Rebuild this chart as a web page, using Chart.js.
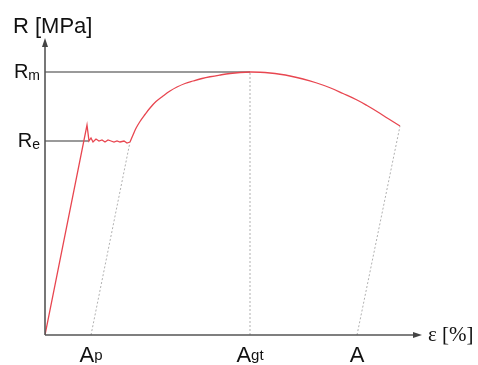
<!DOCTYPE html>
<html><head><meta charset="utf-8">
<script src="https://cdn.jsdelivr.net/npm/chart.js@4/dist/chart.umd.min.js"></script>
<style>html,body{margin:0;padding:0;background:#fff}canvas{display:block}</style>
</head><body>
<canvas id="c" width="478" height="365"></canvas>
<script>
// strain ε [%] and stress R [MPa]
const curveStrain = [0, 4.2, 4.4, 4.6, 4.8, 5.1, 5.4, 5.7, 6.0, 6.3, 6.6, 6.9, 7.2, 7.5, 7.9, 8.2, 8.5, 8.8, 9.1, 9.5, 10.0, 10.5, 11.1, 11.8, 12.5, 13.2, 14.0, 14.8, 15.7, 16.5, 17.5, 18.5, 19.5, 20.5, 21.5, 22.5, 23.5, 24.5, 25.8, 27.1, 28.5, 29.8, 31.2, 32.2, 33.2, 34.3, 35.5];
const curveStress = [0, 420, 388, 394, 386, 392, 388, 390, 386, 390, 388, 386, 388, 386, 388, 384, 386, 400, 413.5, 427, 441, 454, 467, 478, 488, 496, 503, 508, 513, 516.5, 520, 523, 525, 526, 525.5, 524, 521.5, 518, 512, 504.5, 494.5, 483, 470, 459, 447, 433, 418];
const hardeningStart = 16; // index where strain hardening begins (end of yield plateau)
const xTickLabels = [["A", "p"], ["A", "gt"], ["A", ""]];
const xTickValues = [4.6, 20.5, 31.2];
const yTickLabels = [["R", "m"], ["R", "e"]];
const yTickValues = [526, 388];
const yieldEndStrain = 4.4;
const plasticEnd = [8.5, 386];
const fractureEnd = [35.5, 418];
const xMax = 37.7, yMax = 594;

const pts = (xs, ys) => xs.map((x, i) => ({x, y: ys[i]}));
const curve = pts(curveStrain, curveStress);

const red = {borderColor: 'rgb(232,70,80)', borderWidth: 1.3};
const grey = {borderColor: '#9a9a9a', borderWidth: 1.8};
const dashed = {borderColor: '#b0b0b0', borderWidth: 1, borderDash: [2, 2]};

const datasets = [
  Object.assign({data: curve.slice(0, hardeningStart + 1), tension: 0}, red),
  Object.assign({data: curve.slice(hardeningStart), tension: 0.4}, red),
  Object.assign({data: [{x: 0, y: yTickValues[0]}, {x: xTickValues[1], y: yTickValues[0]}]}, grey),
  Object.assign({data: [{x: 0, y: yTickValues[1]}, {x: yieldEndStrain, y: yTickValues[1]}]}, grey),
  Object.assign({data: [{x: xTickValues[0], y: 0}, {x: plasticEnd[0], y: plasticEnd[1]}]}, dashed),
  Object.assign({data: [{x: xTickValues[1], y: 0}, {x: xTickValues[1], y: yTickValues[0]}]}, dashed),
  Object.assign({data: [{x: xTickValues[2], y: 0}, {x: fractureEnd[0], y: fractureEnd[1]}]}, dashed)
].map(d => Object.assign({showLine: true, pointRadius: 0, fill: false}, d));

const FONT = '"Liberation Sans", Arial, sans-serif';
function subLabel(ctx, parts, x, y, align, big, small, dy) {
  ctx.font = big + 'px ' + FONT;
  const w1 = ctx.measureText(parts[0]).width;
  ctx.font = small + 'px ' + FONT;
  const w2 = ctx.measureText(parts[1]).width;
  let left = align === 'right' ? x - w1 - w2 : x - (w1 + w2) / 2;
  ctx.textAlign = 'left';
  ctx.textBaseline = 'alphabetic';
  ctx.font = big + 'px ' + FONT;
  ctx.fillText(parts[0], left, y);
  ctx.font = small + 'px ' + FONT;
  ctx.fillText(parts[1], left + w1, y + dy);
}

const axesPlugin = {
  id: 'axes',
  afterDatasetsDraw(chart) {
    const ctx = chart.ctx, xs = chart.scales.x, ys = chart.scales.y;
    const x0 = xs.getPixelForValue(0), y0 = ys.getPixelForValue(0);
    const xEnd = xs.getPixelForValue(xMax), yEnd = ys.getPixelForValue(yMax);
    ctx.save();
    ctx.strokeStyle = '#555'; ctx.fillStyle = '#444'; ctx.lineWidth = 1.6;
    ctx.beginPath(); ctx.moveTo(x0, y0); ctx.lineTo(xEnd - 6, y0); ctx.stroke();
    ctx.beginPath(); ctx.moveTo(x0, y0); ctx.lineTo(x0, yEnd + 6); ctx.stroke();
    ctx.beginPath(); ctx.moveTo(xEnd, y0); ctx.lineTo(xEnd - 9, y0 - 3); ctx.lineTo(xEnd - 9, y0 + 3); ctx.closePath(); ctx.fill();
    ctx.beginPath(); ctx.moveTo(x0, yEnd); ctx.lineTo(x0 - 3, yEnd + 9); ctx.lineTo(x0 + 3, yEnd + 9); ctx.closePath(); ctx.fill();
    ctx.fillStyle = '#111';
    yTickLabels.forEach((p, i) => subLabel(ctx, p, x0 - 5, ys.getPixelForValue(yTickValues[i]) + 6, 'right', 20, 14, 2));
    xTickLabels.forEach((p, i) => subLabel(ctx, p, xs.getPixelForValue(xTickValues[i]), y0 + 27, 'center', 22, 15, -2));
    ctx.font = '22px ' + FONT; ctx.textAlign = 'left'; ctx.textBaseline = 'alphabetic';
    ctx.fillText('R [MPa]', 13, 33);
    ctx.font = '21px "Liberation Serif", serif';
    ctx.fillText('ε [%]', xEnd + 6, y0 + 6);
    ctx.restore();
  }
};

new Chart(document.getElementById('c'), {
  type: 'scatter',
  data: {datasets},
  options: {
    responsive: false, animation: false, devicePixelRatio: 1,
    layout: {padding: {left: 45, right: 56, top: 38, bottom: 30}},
    plugins: {legend: {display: false}, tooltip: {enabled: false}},
    scales: {
      x: {type: 'linear', min: 0, max: xMax, display: false},
      y: {type: 'linear', min: 0, max: yMax, display: false}
    }
  },
  plugins: [axesPlugin]
});
</script>
</body></html>
